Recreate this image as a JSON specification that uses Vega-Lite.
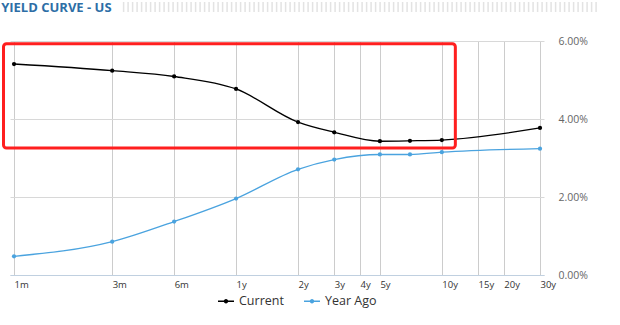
{
  "$schema": "https://vega.github.io/schema/vega-lite/v6.json",
  "width": 534,
  "height": 234,
  "autosize": {"type": "none"},
  "padding": {"left": 10, "top": 41, "right": 76, "bottom": 50},
  "background": "white",
  "config": {"view": {"stroke": null}},
  "datasets": {
    "yields": [
      {"series": "Current", "months": 1, "yield": 5.41},
      {"series": "Current", "months": 3, "yield": 5.24},
      {"series": "Current", "months": 6, "yield": 5.09},
      {"series": "Current", "months": 12, "yield": 4.77},
      {"series": "Current", "months": 24, "yield": 3.92},
      {"series": "Current", "months": 36, "yield": 3.66},
      {"series": "Current", "months": 60, "yield": 3.43},
      {"series": "Current", "months": 84, "yield": 3.44},
      {"series": "Current", "months": 120, "yield": 3.46},
      {"series": "Current", "months": 360, "yield": 3.77},
      {"series": "Year Ago", "months": 1, "yield": 0.48},
      {"series": "Year Ago", "months": 3, "yield": 0.855},
      {"series": "Year Ago", "months": 6, "yield": 1.37},
      {"series": "Year Ago", "months": 12, "yield": 1.96},
      {"series": "Year Ago", "months": 24, "yield": 2.71},
      {"series": "Year Ago", "months": 36, "yield": 2.96},
      {"series": "Year Ago", "months": 60, "yield": 3.09},
      {"series": "Year Ago", "months": 84, "yield": 3.09},
      {"series": "Year Ago", "months": 120, "yield": 3.15},
      {"series": "Year Ago", "months": 360, "yield": 3.24}
    ]
  },
  "layer": [
    {
      "data": {"name": "yields"},
      "mark": {"type": "point", "filled": true, "size": 18, "opacity": 1},
      "encoding": {
        "x": {
          "field": "months",
          "type": "quantitative",
          "scale": {"type": "log", "domain": [0.956, 376.5], "nice": false},
          "axis": {
            "values": [1, 3, 6, 12, 24, 36, 48, 60, 120, 180, 240, 360],
            "labelExpr": "datum.value < 12 ? datum.value + 'm' : (datum.value / 12) + 'y'",
            "grid": true,
            "gridColor": "#cccccc",
            "ticks": false,
            "domainColor": "#c0d0e0",
            "labelFont": "Open Sans",
            "labelFontSize": 9.5,
            "labelColor": "#333333",
            "labelAlign": "left",
            "labelDx": -3,
            "labelPadding": 4,
            "labelFlush": false,
            "labelOverlap": false,
            "title": null
          }
        },
        "y": {
          "field": "yield",
          "type": "quantitative",
          "scale": {"domain": [0, 6], "nice": false},
          "axis": {
            "orient": "right",
            "values": [0, 2, 4, 6],
            "format": ".2f",
            "labelExpr": "datum.label + '%'",
            "grid": true,
            "gridColor": "#d8d8d8",
            "ticks": false,
            "domain": false,
            "labelPadding": 14,
            "labelFont": "Open Sans",
            "labelFontSize": 10.5,
            "labelColor": "#666666",
            "title": null
          }
        },
        "color": {
          "field": "series",
          "type": "nominal",
          "scale": {"domain": ["Current", "Year Ago"], "range": ["#000000", "#4aa3df"]},
          "legend": {
            "orient": "none",
            "legendX": 208,
            "legendY": 252,
            "direction": "horizontal",
            "title": null,
            "symbolType": "M-1,-0.09L1,-0.09L1,0.09L-1,0.09Z M-0.28,0A0.28,0.28 0 1,1 0.28,0A0.28,0.28 0 1,1 -0.28,0Z",
            "symbolSize": 256,
            "symbolStrokeWidth": 0,
            "symbolOpacity": 1,
            "labelFont": "Open Sans",
            "labelFontSize": 12.5,
            "labelColor": "#333333",
            "labelOffset": 5,
            "columnPadding": 20,
            "padding": 0
          }
        }
      }
    },
    {
      "data": {"name": "yields"},
      "mark": {"type": "line", "interpolate": "monotone", "strokeWidth": 1.3},
      "encoding": {
        "x": {"field": "months", "type": "quantitative"},
        "y": {"field": "yield", "type": "quantitative"},
        "color": {"field": "series", "type": "nominal"}
      }
    },
    {
      "data": {"values": [{}]},
      "mark": {"type": "rule", "strokeWidth": 10, "strokeDash": [1.5, 3], "color": "#e3e3e3"},
      "encoding": {
        "x": {"datum": 3.38, "type": "quantitative"},
        "x2": {"datum": 698},
        "y": {"datum": 6.87, "type": "quantitative"}
      }
    },
    {
      "data": {"values": [{"title": "YIELD CURVE - US"}]},
      "mark": {"type": "text", "align": "left", "baseline": "middle", "font": "Open Sans", "fontSize": 13, "fontWeight": "bold", "color": "#2d6ea6"},
      "encoding": {
        "x": {"datum": 0.866, "type": "quantitative"},
        "y": {"datum": 6.845, "type": "quantitative"},
        "text": {"field": "title", "type": "nominal"}
      }
    },
    {
      "data": {"values": [{}]},
      "mark": {"type": "rect", "fill": "transparent", "stroke": "#ff1f1f", "strokeWidth": 3, "cornerRadius": 3},
      "encoding": {
        "x": {"datum": 0.889, "type": "quantitative"},
        "x2": {"datum": 139.6},
        "y": {"datum": 5.93, "type": "quantitative"},
        "y2": {"datum": 3.256}
      }
    }
  ]
}
